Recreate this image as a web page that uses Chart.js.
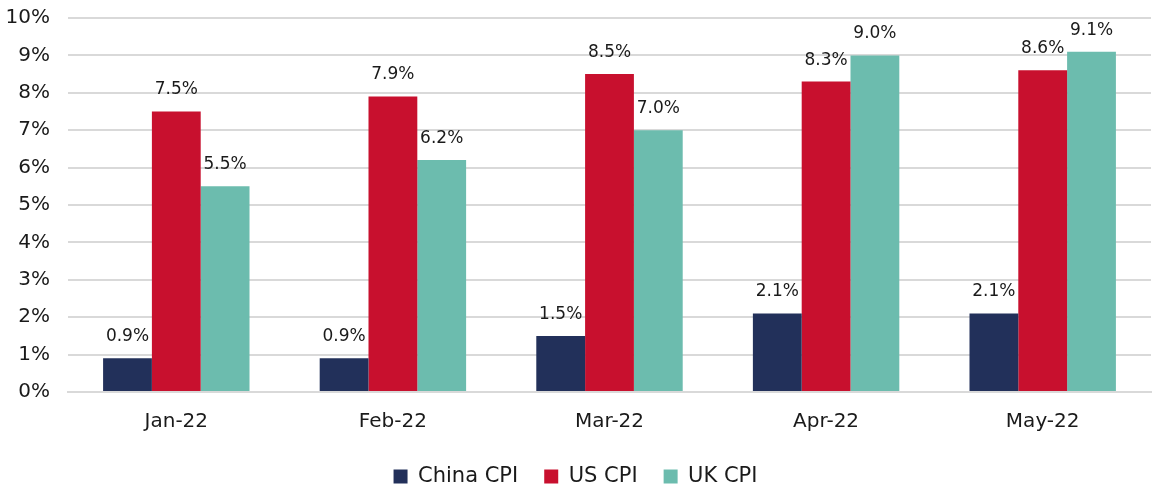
<!DOCTYPE html>
<html><head><meta charset="utf-8">
<script src="https://cdn.jsdelivr.net/npm/chart.js@4"></script>
<style>html,body{margin:0;padding:0;background:#fff}#wrap{width:1157px;height:488px}</style>
</head><body><div id="wrap"><canvas id="c"></canvas></div>
<script>
const categories = ["Jan-22","Feb-22","Mar-22","Apr-22","May-22"];
const chinaCPI = [0.9,0.9,1.5,2.1,2.1];
const usCPI = [7.5,7.9,8.5,8.3,8.6];
const ukCPI = [5.5,6.2,7.0,9.0,9.1];
const seriesNames = ["China CPI","US CPI","UK CPI"];
const FONT = "'DejaVu Sans', 'Open Sans', sans-serif";

const labelPlugin = {
  id:'barLabels',
  afterDatasetsDraw(chart){
    const ctx = chart.ctx;
    ctx.save();
    ctx.font = "17px " + FONT;
    ctx.fillStyle = "#1a1a1a";
    ctx.textAlign = "center";
    ctx.textBaseline = "bottom";
    chart.data.datasets.forEach((ds,i)=>{
      chart.getDatasetMeta(i).data.forEach((bar,j)=>{
        ctx.fillText(ds.data[j].toFixed(1)+"%", bar.x, bar.y-13);
      });
    });
    ctx.restore();
  }
};

new Chart(document.getElementById('c'),{
  type:'bar',
  data:{labels:categories,datasets:[
    {label:seriesNames[0],data:chinaCPI,backgroundColor:'#22305a'},
    {label:seriesNames[1],data:usCPI,backgroundColor:'#c8102e'},
    {label:seriesNames[2],data:ukCPI,backgroundColor:'#6cbcae'}
  ]},
  options:{
    responsive:true,maintainAspectRatio:false,animation:false,
    layout:{padding:{top:18,right:6,left:0,bottom:-9}},
    datasets:{bar:{barPercentage:1,categoryPercentage:0.676}},
    plugins:{
      legend:{position:'bottom',labels:{font:{family:FONT,size:21},color:'#1a1a1a',boxWidth:14,boxHeight:14,padding:26}},
      tooltip:{enabled:false}
    },
    scales:{
      x:{grid:{display:false,drawTicks:false},border:{color:'#d9d9d9',width:2},
         afterFit(s){s.height=48;s.paddingLeft=0;s.paddingRight=0;},
         ticks:{font:{family:FONT,size:20},color:'#1a1a1a',padding:18}},
      y:{min:0,max:10,grid:{color:'#d9d9d9',lineWidth:2,drawTicks:false},border:{display:false},
         afterFit(s){s.width=68;s.paddingTop=0;s.paddingBottom=0;},
         ticks:{stepSize:1,font:{family:FONT,size:20},color:'#1a1a1a',padding:18,callback:v=>v+'%'}}
    }
  },
  plugins:[labelPlugin]
});
</script></body></html>
